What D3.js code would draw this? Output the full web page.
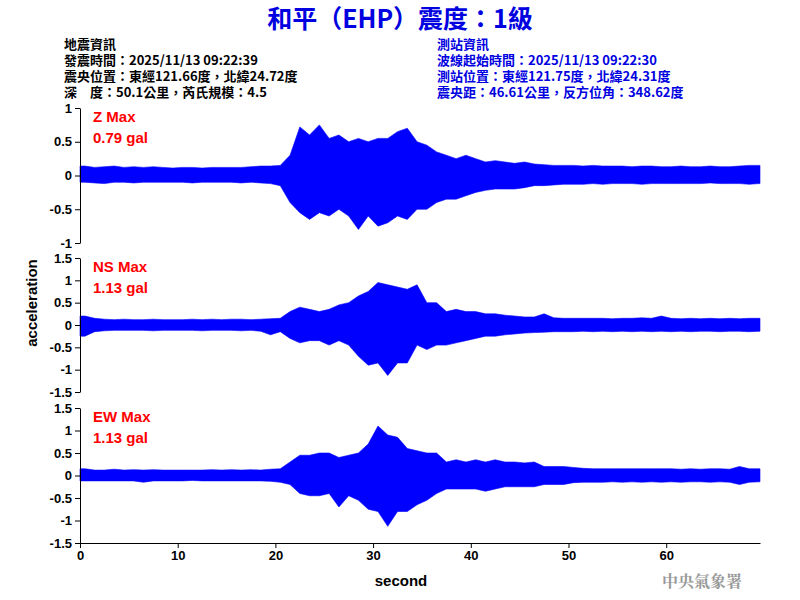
<!DOCTYPE html>
<html><head><meta charset="utf-8">
<script src="https://cdn.jsdelivr.net/npm/d3@7"></script>
<style>body{margin:0;background:#fff}</style></head>
<body><svg id="c" width="800" height="600"></svg>
<script>
const seconds = d3.range(70);
const zMax = [0.14,0.12,0.13,0.14,0.12,0.13,0.12,0.13,0.12,0.11, 0.12,0.12,0.11,0.12,0.12,0.12,0.12,0.13,0.14,0.14, 0.15,0.3,0.72,0.6,0.75,0.55,0.6,0.5,0.55,0.5, 0.55,0.55,0.65,0.7,0.5,0.45,0.35,0.3,0.25,0.3, 0.25,0.2,0.22,0.2,0.18,0.2,0.17,0.16,0.15,0.15, 0.15,0.14,0.15,0.14,0.14,0.14,0.13,0.14,0.14,0.13, 0.13,0.14,0.13,0.13,0.14,0.13,0.13,0.14,0.15,0.15];
const zMin = [-0.1,-0.11,-0.12,-0.1,-0.1,-0.11,-0.1,-0.1,-0.1,-0.1, -0.1,-0.11,-0.1,-0.1,-0.1,-0.1,-0.11,-0.1,-0.11,-0.12, -0.15,-0.4,-0.55,-0.65,-0.55,-0.6,-0.5,-0.6,-0.8,-0.6, -0.75,-0.7,-0.6,-0.65,-0.5,-0.5,-0.4,-0.35,-0.35,-0.3, -0.25,-0.22,-0.2,-0.2,-0.2,-0.18,-0.15,-0.15,-0.14,-0.13, -0.13,-0.13,-0.12,-0.13,-0.12,-0.12,-0.12,-0.13,-0.12,-0.12, -0.12,-0.12,-0.12,-0.12,-0.11,-0.12,-0.12,-0.12,-0.13,-0.12];
const nsMax = [0.2,0.15,0.13,0.12,0.13,0.12,0.12,0.13,0.12,0.12, 0.12,0.13,0.12,0.13,0.12,0.13,0.13,0.12,0.13,0.14, 0.15,0.3,0.4,0.35,0.3,0.35,0.45,0.5,0.65,0.75, 0.95,0.9,0.85,0.8,0.9,0.5,0.5,0.3,0.35,0.3, 0.3,0.25,0.25,0.22,0.2,0.18,0.18,0.25,0.16,0.15, 0.15,0.15,0.15,0.15,0.14,0.15,0.15,0.16,0.15,0.2, 0.15,0.14,0.15,0.14,0.15,0.14,0.15,0.14,0.15,0.15];
const nsMin = [-0.25,-0.15,-0.13,-0.12,-0.12,-0.12,-0.12,-0.13,-0.12,-0.12, -0.12,-0.12,-0.13,-0.12,-0.12,-0.12,-0.13,-0.12,-0.14,-0.22, -0.15,-0.3,-0.4,-0.35,-0.35,-0.45,-0.35,-0.45,-0.7,-0.9, -0.85,-1.13,-0.85,-0.85,-0.45,-0.55,-0.45,-0.45,-0.4,-0.35, -0.3,-0.25,-0.25,-0.22,-0.2,-0.18,-0.17,-0.16,-0.15,-0.15, -0.15,-0.14,-0.15,-0.14,-0.15,-0.14,-0.15,-0.14,-0.15,-0.14, -0.15,-0.14,-0.15,-0.14,-0.14,-0.15,-0.14,-0.14,-0.15,-0.14];
const ewMax = [0.15,0.12,0.12,0.14,0.12,0.13,0.12,0.13,0.12,0.12, 0.12,0.12,0.12,0.13,0.12,0.13,0.12,0.13,0.12,0.14, 0.15,0.3,0.45,0.45,0.5,0.5,0.4,0.45,0.5,0.7, 1.1,0.9,0.85,0.6,0.55,0.5,0.5,0.3,0.35,0.3, 0.35,0.3,0.35,0.3,0.3,0.28,0.3,0.2,0.2,0.2, 0.18,0.16,0.15,0.15,0.15,0.15,0.15,0.15,0.15,0.15, 0.15,0.14,0.15,0.14,0.15,0.15,0.14,0.2,0.15,0.15];
const ewMin = [-0.12,-0.12,-0.12,-0.12,-0.12,-0.12,-0.15,-0.12,-0.12,-0.12, -0.12,-0.11,-0.12,-0.12,-0.12,-0.12,-0.12,-0.12,-0.12,-0.13, -0.15,-0.2,-0.4,-0.45,-0.45,-0.4,-0.7,-0.45,-0.55,-0.75, -0.8,-1.13,-0.8,-0.8,-0.65,-0.55,-0.4,-0.3,-0.3,-0.3, -0.3,-0.35,-0.3,-0.25,-0.25,-0.25,-0.25,-0.2,-0.2,-0.2, -0.16,-0.15,-0.15,-0.15,-0.14,-0.15,-0.14,-0.15,-0.14,-0.15, -0.14,-0.15,-0.14,-0.14,-0.15,-0.14,-0.15,-0.2,-0.15,-0.14];
const panels = [
  {name:"Z Max", peak:"0.79 gal", max:zMax, min:zMin, lim:1, ticks:[-1,-0.5,0,0.5,1], top:108, bot:243},
  {name:"NS Max", peak:"1.13 gal", max:nsMax, min:nsMin, lim:1.5, ticks:[-1.5,-1,-0.5,0,0.5,1,1.5], top:258, bot:392},
  {name:"EW Max", peak:"1.13 gal", max:ewMax, min:ewMin, lim:1.5, ticks:[-1.5,-1,-0.5,0,0.5,1,1.5], top:408, bot:543}
];
const xTicks = [0,10,20,30,40,50,60];
const quakeInfo = ["地震資訊","發震時間：2025/11/13 09:22:39","震央位置：東經121.66度，北緯24.72度","深　度：50.1公里，芮氏規模：4.5"];
const stationInfo = ["測站資訊","波線起始時間：2025/11/13 09:22:30","測站位置：東經121.75度，北緯24.31度","震央距：46.61公里，反方位角：348.62度"];

const svg = d3.select("#c");
const cjk = "'Noto Sans CJK TC','Liberation Sans',sans-serif";
const num = "'Liberation Sans Narrow','Liberation Sans',Arial,sans-serif";
const x = d3.scaleLinear().domain([0,69.6]).range([80,760]);

svg.append("text").attr("x",400).attr("y",28).attr("text-anchor","middle")
  .attr("font-family",cjk).attr("font-weight","bold").attr("font-size",25).attr("fill","#0000e0")
  .text("和平（EHP）震度：1級");
quakeInfo.forEach((t,i)=>svg.append("text").attr("x",64).attr("y",49+i*16).attr("font-family",cjk)
  .attr("font-weight","bold").attr("font-size",13).attr("fill","#000").text(t));
stationInfo.forEach((t,i)=>svg.append("text").attr("x",437).attr("y",49+i*16).attr("font-family",cjk)
  .attr("font-weight","bold").attr("font-size",13).attr("fill","#0000e0").text(t));

panels.forEach((p,k)=>{
  const y = d3.scaleLinear().domain([-p.lim,p.lim]).range([p.bot,p.top]);
  const data = seconds.map(i=>({t:i+0.5,hi:p.max[i],lo:p.min[i]}));
  data.unshift({t:0,hi:p.max[0],lo:p.min[0]});
  data.push({t:69.6,hi:p.max[69],lo:p.min[69]});
  svg.append("path").datum(data)
    .attr("d",d3.area().x(d=>x(d.t)).y0(d=>y(d.lo)).y1(d=>y(d.hi)).curve(d3.curveLinear))
    .attr("fill","#0000ff").attr("stroke","#0000ff").attr("stroke-width",0.6);
  const ax = svg.append("g").attr("transform","translate(80,0)")
    .call(d3.axisLeft(y).tickValues(p.ticks).tickSize(5).tickSizeOuter(0).tickFormat(d=>String(d)));
  ax.select(".domain").attr("stroke","#000");
  ax.selectAll("text").attr("font-family",num).attr("font-weight","bold").attr("font-size",13).attr("fill","#000");
  svg.append("text").attr("x",93).attr("y",p.top+14).attr("font-family",num).attr("font-weight","bold")
    .attr("font-size",15).attr("fill","#ff0000").text(p.name);
  svg.append("text").attr("x",93).attr("y",p.top+35).attr("font-family",num).attr("font-weight","bold")
    .attr("font-size",15).attr("fill","#ff0000").text(p.peak);
  if(k===2){
    const bx = svg.append("g").attr("transform",`translate(0,${p.bot})`)
      .call(d3.axisBottom(x).tickValues(xTicks).tickSize(5).tickSizeOuter(0));
    bx.selectAll("text").attr("font-family",num).attr("font-weight","bold").attr("font-size",13).attr("fill","#000");
  }
});
svg.append("text").attr("transform","translate(37,303) rotate(-90)").attr("text-anchor","middle")
  .attr("font-family","'Liberation Sans',Arial,sans-serif").attr("font-weight","bold").attr("font-size",15).text("acceleration");
svg.append("text").attr("x",401).attr("y",586).attr("text-anchor","middle")
  .attr("font-family","'Liberation Sans',Arial,sans-serif").attr("font-weight","bold").attr("font-size",15).text("second");
svg.append("text").attr("x",702).attr("y",587).attr("text-anchor","middle")
  .attr("font-family","'Noto Serif CJK TC','Noto Sans CJK TC',serif").attr("font-weight","bold").attr("font-size",16).attr("fill","#999").text("中央氣象署");
</script></body></html>
